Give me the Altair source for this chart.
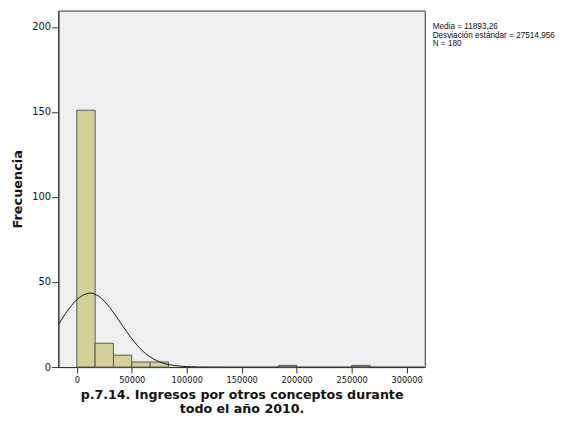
import altair as alt
import pandas as pd

# Histogram bins, bin width = 300000/18
bin_width = 300000 / 18
bin_index = [0, 1, 2, 3, 4, 11, 15]
counts = [151, 14, 7, 3, 3, 1, 1]

# Normal curve values
curve_x = [-17000, -10000, 0, 5000, 12000, 20000, 30000, 40000, 50000, 60000,
           70000, 80000, 90000, 100000, 110000, 120000, 140000, 316000]
curve_y = [24.6, 31.7, 39.6, 42.0, 43.5, 41.6, 35.0, 25.8, 16.7, 9.4,
           4.7, 2.0, 0.8, 0.26, 0.08, 0.02, 0.0, 0.0]

stats = ["Media = 11893,26", "Desviación estándar = 27514,956", "N = 180"]

bars_df = pd.DataFrame({
    "start": [i * bin_width for i in bin_index],
    "end": [(i + 1) * bin_width for i in bin_index],
    "count": counts,
})
curve_df = pd.DataFrame({"x": curve_x, "y": curve_y})
stats_df = pd.DataFrame({"t": [stats]})

xscale = alt.Scale(domain=[-16780, 316500], nice=False, zero=False)
yscale = alt.Scale(domain=[0, 209.6], nice=False)

xaxis = alt.Axis(
    values=[0, 50000, 100000, 150000, 200000, 250000, 300000],
    format="d", grid=False, labelFontSize=8.3, labelFont="DejaVu Sans",
    labelColor="#111", tickColor="#333", domainColor="#333", tickSize=6,
    labelPadding=3,
    title=["p.7.14. Ingresos por otros conceptos durante", "todo el año 2010."],
    titleFont="DejaVu Sans", titleFontSize=12.8, titleFontWeight="bold",
    titleColor="#111", titlePadding=5, titleLineHeight=14,
)
yaxis = alt.Axis(
    values=[0, 50, 100, 150, 200], grid=False, labelFontSize=10,
    labelFont="DejaVu Sans", labelColor="#111", tickColor="#333",
    domainColor="#333", tickSize=7, labelPadding=1,
    title="Frecuencia", titleFont="DejaVu Sans", titleFontSize=13,
    titleFontWeight="bold", titleColor="#111", titlePadding=7,
)

bars = alt.Chart(bars_df).mark_rect(
    fill="#d4d09a", stroke="#555555", strokeWidth=1
).encode(
    x=alt.X("start:Q", scale=xscale, axis=xaxis),
    x2="end:Q",
    y=alt.Y("count:Q", scale=yscale, axis=yaxis),
    y2=alt.datum(0),
)

curve = alt.Chart(curve_df).mark_line(
    color="#111111", strokeWidth=1, interpolate="monotone", clip=True
).encode(
    x=alt.X("x:Q", scale=xscale),
    y=alt.Y("y:Q", scale=yscale),
)

text = alt.Chart(stats_df).mark_text(
    align="left", baseline="top", fontSize=8.3, font="Liberation Sans",
    color="#111", lineHeight=8.5
).encode(
    x=alt.value(379),
    y=alt.value(12),
    text="t",
)

chart = alt.layer(bars, curve, text).properties(
    width=371, height=361,
    autosize=alt.AutoSizeParams(type="none"),
    padding={"left": 51, "top": 0, "right": 140, "bottom": 52},
).configure_view(
    fill="#f0f0f0", stroke="#333333", strokeWidth=1
)

chart.save("out.html", embed_options={"renderer": "svg", "actions": False})
